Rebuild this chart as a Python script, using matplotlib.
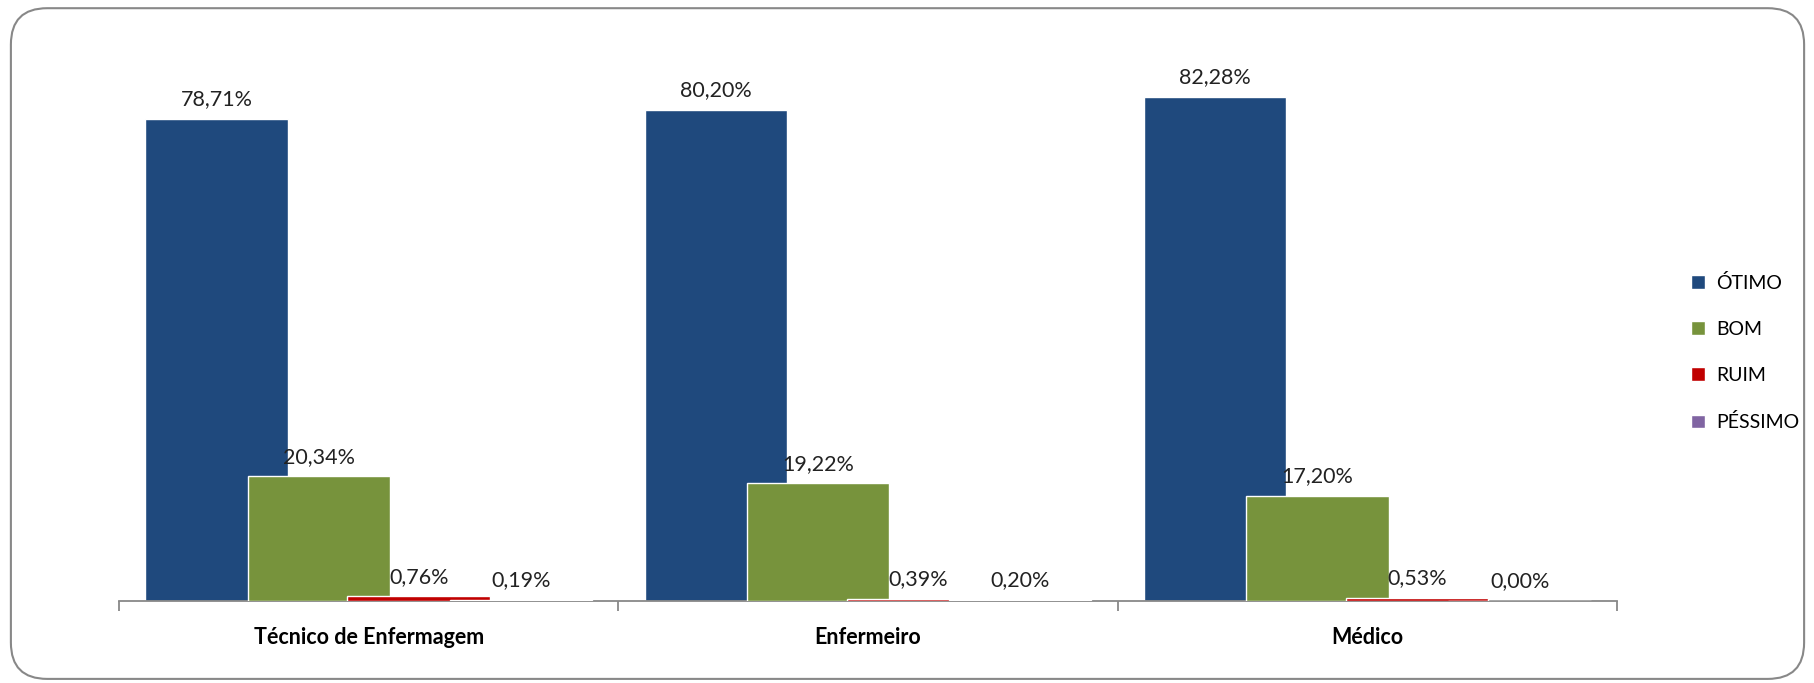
import numpy as np
import matplotlib.pyplot as plt
from matplotlib.patches import FancyBboxPatch

plt.rcParams['font.family'] = ['Lato', 'DejaVu Sans']

categorias = ["Técnico de Enfermagem", "Enfermeiro", "Médico"]
series = ["ÓTIMO", "BOM", "RUIM", "PÉSSIMO"]
otimo = [78.71, 80.20, 82.28]
bom = [20.34, 19.22, 17.20]
ruim = [0.76, 0.39, 0.53]
pessimo = [0.19, 0.20, 0.00]
cores = ["#1F497D", "#77933C", "#C00000", "#8064A2"]

valores = [otimo, bom, ruim, pessimo]

fig = plt.figure(figsize=(18.15, 6.83), dpi=100)
ax = fig.add_axes([0.0656, 0.12, 0.8253, 0.807])

x = np.arange(len(categorias))
offsets = [-0.305, -0.1, 0.1, 0.305]
largura = 0.285

for i, (nome, vals) in enumerate(zip(series, valores)):
    bars = ax.bar(x + offsets[i], vals, largura, color=cores[i], label=nome,
                  edgecolor="white", linewidth=1.0, zorder=2 + i)
    for b, v in zip(bars, vals):
        ax.annotate(f"{v:.2f}%".replace(".", ","),
                    (b.get_x() + b.get_width() / 2, v),
                    xytext=(0, 7), textcoords="offset points",
                    ha="center", va="bottom", fontsize=15.5, color="#222222",
                    zorder=10)

ax.set_xlim(-0.5, 2.5)
ax.set_ylim(0, 90)
ax.set_yticks([])
for s in ["top", "right", "left"]:
    ax.spines[s].set_visible(False)
ax.spines["bottom"].set_color("#888888")
ax.spines["bottom"].set_linewidth(1.3)
ax.set_xticks([-0.5, 0.5, 1.5, 2.5])
ax.set_xticklabels([])
ax.tick_params(axis="x", length=7, color="#888888", width=1.3)
ax.set_xticks(x, minor=True)
ax.set_xticklabels(categorias, minor=True, fontsize=15.5, fontweight="bold")
ax.tick_params(axis="x", which="minor", length=0, pad=19)

leg = fig.legend(loc="upper left", bbox_to_anchor=(0.922, 0.625), frameon=False,
                 fontsize=14, handlelength=0.7, handleheight=0.7,
                 labelspacing=1.5, handletextpad=0.6)

borda = FancyBboxPatch((0.006, 0.006), 0.988, 0.982,
                       boxstyle="round,pad=0,rounding_size=0.02",
                       transform=fig.transFigure, facecolor="none",
                       edgecolor="#888888", linewidth=1.5, mutation_aspect=18.15 / 6.83)
fig.patches.append(borda)

plt.savefig("out.png", dpi=100)
